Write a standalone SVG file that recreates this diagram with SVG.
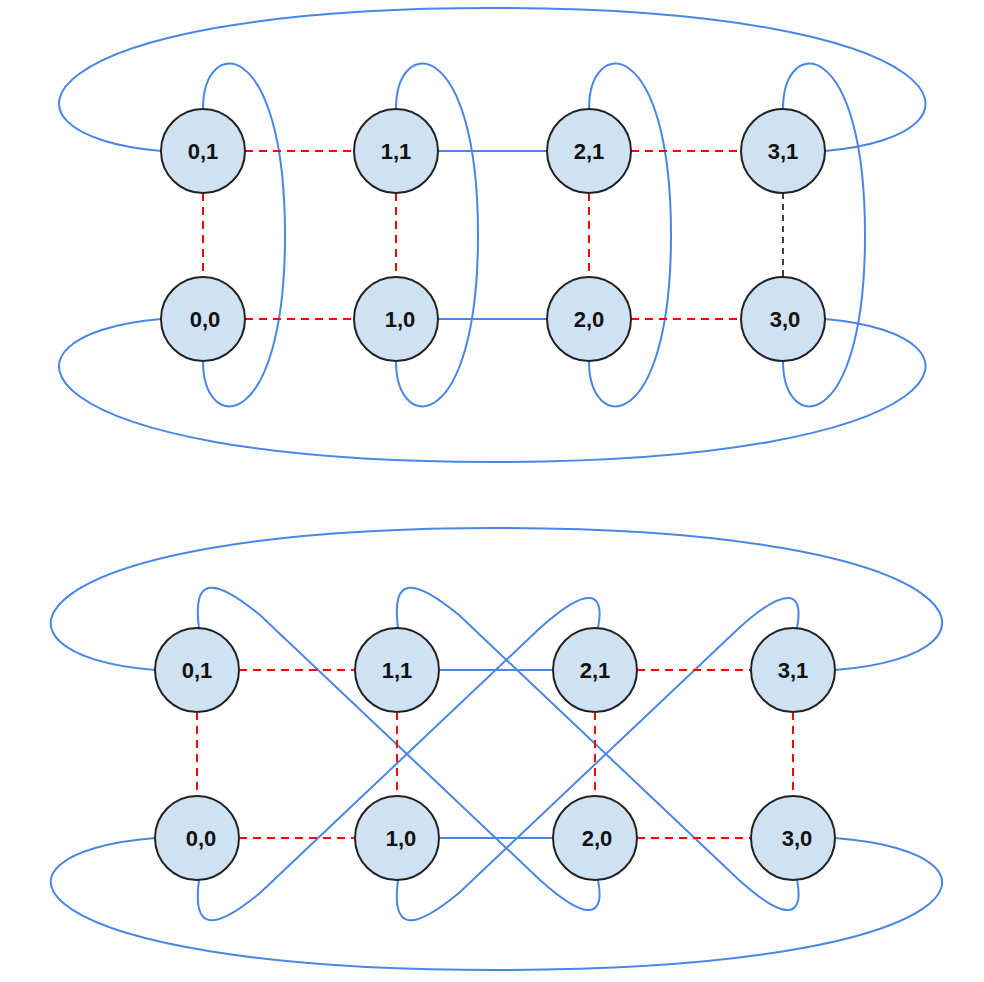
<svg xmlns="http://www.w3.org/2000/svg" width="984" height="982" viewBox="0 0 984 982">
<style>
.n circle{fill:#cfe2f3;stroke:#222;stroke-width:2}
.n text{font-family:"Liberation Sans",Arial,sans-serif;font-weight:bold;font-size:22px;fill:#111;text-anchor:middle;dominant-baseline:central}
.b{fill:none;stroke:#4a86e8;stroke-width:2}
.r{fill:none;stroke:#f00;stroke-width:2;stroke-dasharray:8,6}
.k{fill:none;stroke:#000;stroke-width:1.5;stroke-dasharray:6,5}
</style>
<rect width="984" height="982" fill="#fff"/>
<g id="connectors">
<!-- top graph -->
<path class="b" d="M161,151 C-25,135 20,8 492,8 C964,8 1009,135 825,151"/>
<path class="b" d="M161,319 C-25,335 20,462 492,462 C964,462 1009,335 825,319"/>
<path class="b" d="M203,109 C203,35 285,35 285,235 C285,435 203,435 203,361"/>
<path class="b" d="M396,109 C396,35 478,35 478,235 C478,435 396,435 396,361"/>
<path class="b" d="M589,109 C589,35 671,35 671,235 C671,435 589,435 589,361"/>
<path class="b" d="M783,109 C783,35 865,35 865,235 C865,435 783,435 783,361"/>
<path class="r" d="M245,151 H354 M631,151 H741 M245,319 H354 M631,319 H741 M203,193 V277 M396,193 V277 M589,193 V277"/>
<path class="b" d="M438,151 H547 M438,319 H547"/>
<path class="k" d="M783,193 V277"/>
<!-- bottom graph -->
<path class="b" d="M155,670 C-35,655 10,528 497,528 C984,528 1029,655 835,670"/>
<path class="b" d="M155,838 C-35,853 10,970 497,970 C984,970 1029,853 835,838"/>
<path class="b" d="M199,628 C192,575 215,578 260,615 L540,880 C590,925 605,915 598,880"/>
<path class="b" d="M199,880 C192,933 215,930 260,893 L540,628 C590,583 605,593 598,628"/>
<path class="b" d="M398,628 C391,575 414,578 459,615 L739,880 C789,925 804,915 797,880"/>
<path class="b" d="M398,880 C391,933 414,930 459,893 L739,628 C789,583 804,593 797,628"/>
<path class="r" d="M239,670 H355 M637,670 H751 M239,838 H355 M637,838 H751 M197,712 V796 M397,712 V796 M595,712 V796 M793,712 V796"/>
<path class="b" d="M439,670 H553 M439,838 H553"/>
</g>
<g id="n01" class="n"><circle cx="203" cy="151" r="42"/><text x="203" y="151">0,1</text></g>
<g id="n11" class="n"><circle cx="396" cy="151" r="42"/><text x="396" y="151">1,1</text></g>
<g id="n21" class="n"><circle cx="589" cy="151" r="42"/><text x="589" y="151">2,1</text></g>
<g id="n31" class="n"><circle cx="783" cy="151" r="42"/><text x="783" y="151">3,1</text></g>
<g id="n00" class="n"><circle cx="203" cy="319" r="42"/><text x="205" y="319">0,0</text></g>
<g id="n10" class="n"><circle cx="396" cy="319" r="42"/><text x="400" y="319">1,0</text></g>
<g id="n20" class="n"><circle cx="589" cy="319" r="42"/><text x="589" y="319">2,0</text></g>
<g id="n30" class="n"><circle cx="783" cy="319" r="42"/><text x="785" y="319">3,0</text></g>
<g id="m01" class="n"><circle cx="197" cy="670" r="42"/><text x="197" y="670">0,1</text></g>
<g id="m11" class="n"><circle cx="397" cy="670" r="42"/><text x="397" y="670">1,1</text></g>
<g id="m21" class="n"><circle cx="595" cy="670" r="42"/><text x="595" y="670">2,1</text></g>
<g id="m31" class="n"><circle cx="793" cy="670" r="42"/><text x="793" y="670">3,1</text></g>
<g id="m00" class="n"><circle cx="197" cy="838" r="42"/><text x="201" y="838">0,0</text></g>
<g id="m10" class="n"><circle cx="397" cy="838" r="42"/><text x="401" y="838">1,0</text></g>
<g id="m20" class="n"><circle cx="595" cy="838" r="42"/><text x="597" y="838">2,0</text></g>
<g id="m30" class="n"><circle cx="793" cy="838" r="42"/><text x="797" y="838">3,0</text></g>
</svg>
